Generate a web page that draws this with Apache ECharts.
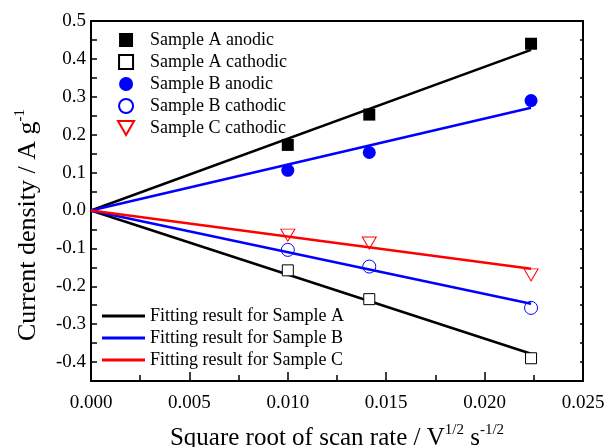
<!DOCTYPE html>
<html>
<head>
<meta charset="utf-8">
<script src="https://cdn.jsdelivr.net/npm/echarts@6/dist/echarts.min.js"></script>
<style>html,body{margin:0;padding:0;background:#fff}#c{width:606px;height:447px}</style>
</head>
<body>
<div id="c"></div>
<script>
// ---- data ----
var xVals = [0.01, 0.01414, 0.02236];
var aAnodic = [0.173, 0.253, 0.44];
var aCathodic = [-0.158, -0.234, -0.39];
var bAnodic = [0.106, 0.153, 0.29];
var bCathodic = [-0.104, -0.148, -0.257];
var cCathodic = [-0.065, -0.086, -0.17];
var fitX = [0, 0.02236];
var fitAanodic = [0, 0.424];
var fitAcathodic = [0, -0.378];
var fitBanodic = [0, 0.271];
var fitBcathodic = [0, -0.246];
var fitCcathodic = [0, -0.154];
var xTicks = {min: 0, max: 0.025, step: 0.005};
var yTicks = {min: -0.45, max: 0.5, step: 0.05};
var markerNames = ['Sample A anodic','Sample A cathodic','Sample B anodic','Sample B cathodic','Sample C cathodic'];
var fitNames = ['Fitting result for Sample A','Fitting result for Sample B','Fitting result for Sample C'];

function pairs(xs, ys){ return xs.map(function(x,i){ return [x, ys[i]]; }); }
var FF = '"Liberation Serif", "Times New Roman", serif';
var SQ = 'path://M0 0H10V10H0Z';
var TRI = 'path://M0 0H11.5L5.75 10Z';

var chart = echarts.init(document.getElementById('c'), null, {renderer:'canvas'});
var axisLine = {show:true, onZero:false, lineStyle:{color:'#000', width:2}};
var option = {
  animation:false,
  backgroundColor:'#fff',
  grid:{left:91, right:23, top:21, bottom:66, containLabel:false, outerBoundsMode:'none'},
  xAxis:[{
    type:'value', min:xTicks.min, max:xTicks.max, interval:xTicks.step,
    axisLine:axisLine,
    axisTick:{show:true, inside:true, length:9, lineStyle:{color:'#000', width:1.5}},
    minorTick:{show:true, splitNumber:2, length:6, lineStyle:{color:'#000', width:1.5}},
    splitLine:{show:false},
    axisLabel:{color:'#000', fontFamily:FF, fontSize:19, margin:13,
      formatter:function(v){ return v.toFixed(3); }},
    name:'{a|Square root of scan rate / V}{s|1/2}{a| s}{s|-1/2}',
    nameLocation:'middle', nameGap:42,
    nameTextStyle:{rich:{
      a:{fontFamily:FF, fontSize:25, color:'#000', lineHeight:30},
      s:{fontFamily:FF, fontSize:15, color:'#000', lineHeight:16, verticalAlign:'top'}
    }}
  },{
    type:'value', position:'top', min:xTicks.min, max:xTicks.max, interval:xTicks.step,
    axisLine:axisLine, axisTick:{show:false}, axisLabel:{show:false}, splitLine:{show:false}
  }],
  yAxis:[{
    type:'value', min:yTicks.min, max:yTicks.max, interval:yTicks.step,
    axisLine:axisLine,
    axisTick:{show:true, inside:true, length:6, lineStyle:{color:'#000', width:1.5}},
    splitLine:{show:false},
    axisLabel:{color:'#000', fontFamily:FF, fontSize:19, margin:5,
      formatter:function(v){
        var r = Math.round(v*100);
        if (r % 10 !== 0) return '';
        return (r/100).toFixed(1);
      }},
    name:'{a|Current density / A g}{s|-1}',
    nameLocation:'middle', nameRotate:90, nameGap:48,
    nameTextStyle:{padding:[0,48,0,0], rich:{
      a:{fontFamily:FF, fontSize:26, color:'#000', lineHeight:30},
      s:{fontFamily:FF, fontSize:15, color:'#000', lineHeight:16, verticalAlign:'top'}
    }}
  },{
    type:'value', position:'right', min:yTicks.min, max:yTicks.max, interval:yTicks.step,
    axisLine:axisLine,
    axisTick:{show:true, inside:true, length:3, lineStyle:{color:'#000', width:1.5}},
    axisLabel:{show:false}, splitLine:{show:false}
  }],
  legend:[{
    left:112, top:26, orient:'vertical', itemGap:4, itemWidth:38, itemHeight:14,
    symbolKeepAspect:true,
    textStyle:{fontFamily:FF, fontSize:18, color:'#000'},
    data:[
      {name:markerNames[0], icon:SQ},
      {name:markerNames[1], icon:SQ},
      {name:markerNames[2], icon:'circle'},
      {name:markerNames[3], icon:'circle'},
      {name:markerNames[4], icon:TRI}
    ]
  },{
    left:97, top:302, orient:'vertical', itemGap:4, itemWidth:43, itemHeight:3,
    textStyle:{fontFamily:FF, fontSize:18, color:'#000'},
    data:fitNames.map(function(n){ return {name:n, icon:'rect'}; })
  }],
  series:[
    {name:fitNames[0], type:'line', data:pairs(fitX, fitAanodic), symbol:'none', lineStyle:{color:'#000', width:2.5}, itemStyle:{color:'#000'}, z:2},
    {name:fitNames[0], type:'line', data:pairs(fitX, fitAcathodic), symbol:'none', lineStyle:{color:'#000', width:2.5}, itemStyle:{color:'#000'}, z:2},
    {name:fitNames[1], type:'line', data:pairs(fitX, fitBanodic), symbol:'none', lineStyle:{color:'#0000ff', width:2.5}, itemStyle:{color:'#0000ff'}, z:2},
    {name:fitNames[1], type:'line', data:pairs(fitX, fitBcathodic), symbol:'none', lineStyle:{color:'#0000ff', width:2.5}, itemStyle:{color:'#0000ff'}, z:2},
    {name:fitNames[2], type:'line', data:pairs(fitX, fitCcathodic), symbol:'none', lineStyle:{color:'#ff0000', width:2.5}, itemStyle:{color:'#ff0000'}, z:2},
    {name:markerNames[0], type:'scatter', data:pairs(xVals, aAnodic), symbol:'rect', symbolSize:12, itemStyle:{color:'#000', opacity:1}, z:3},
    {name:markerNames[1], type:'scatter', data:pairs(xVals, aCathodic), symbol:'rect', symbolSize:11, itemStyle:{color:'#fff', borderColor:'#000', borderWidth:1, opacity:1}, z:3},
    {name:markerNames[2], type:'scatter', data:pairs(xVals, bAnodic), symbol:'circle', symbolSize:13, itemStyle:{color:'#0000ff', opacity:1}, z:3},
    {name:markerNames[3], type:'scatter', data:pairs(xVals, bCathodic), symbol:'circle', symbolSize:13, itemStyle:{color:'rgba(255,255,255,0)', borderColor:'#0000ff', borderWidth:1, opacity:1}, z:3},
    {name:markerNames[4], type:'scatter', data:pairs(xVals, cCathodic), symbol:'triangle', symbolRotate:180, symbolSize:[14,12], itemStyle:{color:'rgba(255,255,255,0)', borderColor:'#ff0000', borderWidth:1, opacity:1}, z:3}
  ]
};
chart.setOption(option);
</script>
</body>
</html>
